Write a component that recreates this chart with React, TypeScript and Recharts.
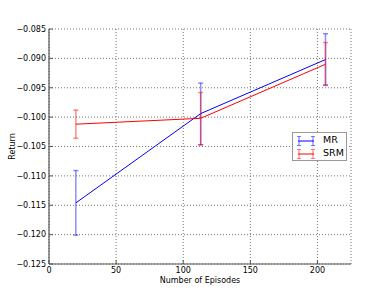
import { LineChart, Line, XAxis, YAxis, CartesianGrid, ErrorBar } from 'recharts'

const episodes = [20, 113, 206]
const mrMean = [-0.1146, -0.0994, -0.0902]
const mrLow = [-0.1201, -0.1047, -0.0946]
const mrHigh = [-0.1091, -0.0942, -0.0858]
const srmMean = [-0.1012, -0.1002, -0.091]
const srmLow = [-0.1036, -0.1047, -0.0945]
const srmHigh = [-0.0988, -0.0958, -0.0873]

const xTicks = [0, 50, 100, 150, 200]
const yTicks = [-0.125, -0.12, -0.115, -0.11, -0.105, -0.1, -0.095, -0.09, -0.085]

const rows = episodes.map((x, i) => ({
  x,
  mr: mrMean[i],
  mrErr: [mrMean[i] - mrLow[i], mrHigh[i] - mrMean[i]],
  srm: srmMean[i],
  srmErr: [srmMean[i] - srmLow[i], srmHigh[i] - srmMean[i]],
}))

const FONT = '"DejaVu Sans", sans-serif'
const tickStyle = { fontSize: 8, fill: '#000', fontFamily: FONT }
const axisLine = { stroke: '#555', strokeWidth: 1.2 }
const fmtY = (v: number) => v.toFixed(3).replace('-', '\u2212')

function LegendIcon({ color }: { color: string }) {
  return (
    <svg width={18} height={10} style={{ display: 'block', flexShrink: 0 }}>
      <line x1={1} y1={5} x2={17} y2={5} stroke={color} strokeWidth={1} />
      <line x1={2} y1={0.5} x2={2} y2={9.5} stroke={color} strokeOpacity={0.5} strokeWidth={1.2} />
      <line x1={16} y1={0.5} x2={16} y2={9.5} stroke={color} strokeOpacity={0.5} strokeWidth={1.2} />
      <line x1={0} y1={0.5} x2={4} y2={0.5} stroke={color} strokeOpacity={0.5} />
      <line x1={0} y1={9.5} x2={4} y2={9.5} stroke={color} strokeOpacity={0.5} />
      <line x1={14} y1={0.5} x2={18} y2={0.5} stroke={color} strokeOpacity={0.5} />
      <line x1={14} y1={9.5} x2={18} y2={9.5} stroke={color} strokeOpacity={0.5} />
    </svg>
  )
}

export default function App() {
  return (
    <div style={{ position: 'relative', width: 390, height: 294, fontFamily: FONT, background: '#fff' }}>
      <style>{'body{margin:0}'}</style>
      <LineChart width={390} height={294} data={rows} margin={{ top: 29, right: 39, left: 0, bottom: 0 }}>
        <CartesianGrid stroke="#777" strokeDasharray="1 2" />
        <XAxis
          dataKey="x" type="number" domain={[0, 225]} ticks={xTicks} height={30}
          tick={tickStyle} tickSize={-4} tickMargin={7} axisLine={axisLine} tickLine={{ stroke: '#555' }}
          label={{ value: 'Number of Episodes', position: 'insideBottom', offset: 11, fontSize: 8, fill: '#000', fontFamily: FONT }}
        />
        <XAxis
          xAxisId="top" orientation="top" dataKey="x" type="number" domain={[0, 225]} ticks={xTicks}
          height={0} tick={false} tickSize={-4} axisLine={axisLine} tickLine={{ stroke: '#555' }}
        />
        <YAxis
          type="number" domain={[-0.125, -0.085]} ticks={yTicks} width={49} allowDataOverflow
          tick={tickStyle} tickFormatter={fmtY} tickSize={-4} tickMargin={7} axisLine={axisLine} tickLine={{ stroke: '#555' }}
          label={{ value: 'Return', angle: -90, position: 'center', dx: -12, fontSize: 8, fill: '#000', fontFamily: FONT }}
        />
        <YAxis
          yAxisId="right" orientation="right" type="number" domain={[-0.125, -0.085]} ticks={yTicks} width={0}
          tick={false} tickSize={-4} axisLine={axisLine} tickLine={{ stroke: '#555' }}
        />
        <Line dataKey="mr" stroke="#0000ff" strokeWidth={1} dot={false} isAnimationActive={false}>
          <ErrorBar dataKey="mrErr" direction="y" width={2.5} stroke="rgba(0,0,255,0.45)" strokeWidth={1.5} />
        </Line>
        <Line dataKey="srm" stroke="#ff0000" strokeWidth={1} dot={false} isAnimationActive={false}>
          <ErrorBar dataKey="srmErr" direction="y" width={2.5} stroke="rgba(255,0,0,0.45)" strokeWidth={1.5} />
        </Line>
      </LineChart>
      <div style={{
        position: 'absolute', left: 292, top: 132, width: 55, height: 29, boxSizing: 'border-box',
        border: '1.2px solid #999', background: '#fff', fontSize: 9.5,
      }}>
        {[['MR', '#0000ff'], ['SRM', '#ff0000']].map(([name, color], i) => (
          <div key={name} style={{ position: 'absolute', left: 4, top: 2 + i * 13, height: 11, width: 50 }}>
            <div style={{ position: 'absolute', left: 0, top: 0.5 }}>
              <LegendIcon color={color} />
            </div>
            <span style={{ position: 'absolute', left: 26, top: -1, lineHeight: '12px', whiteSpace: 'nowrap' }}>{name}</span>
          </div>
        ))}
      </div>
    </div>
  )
}
